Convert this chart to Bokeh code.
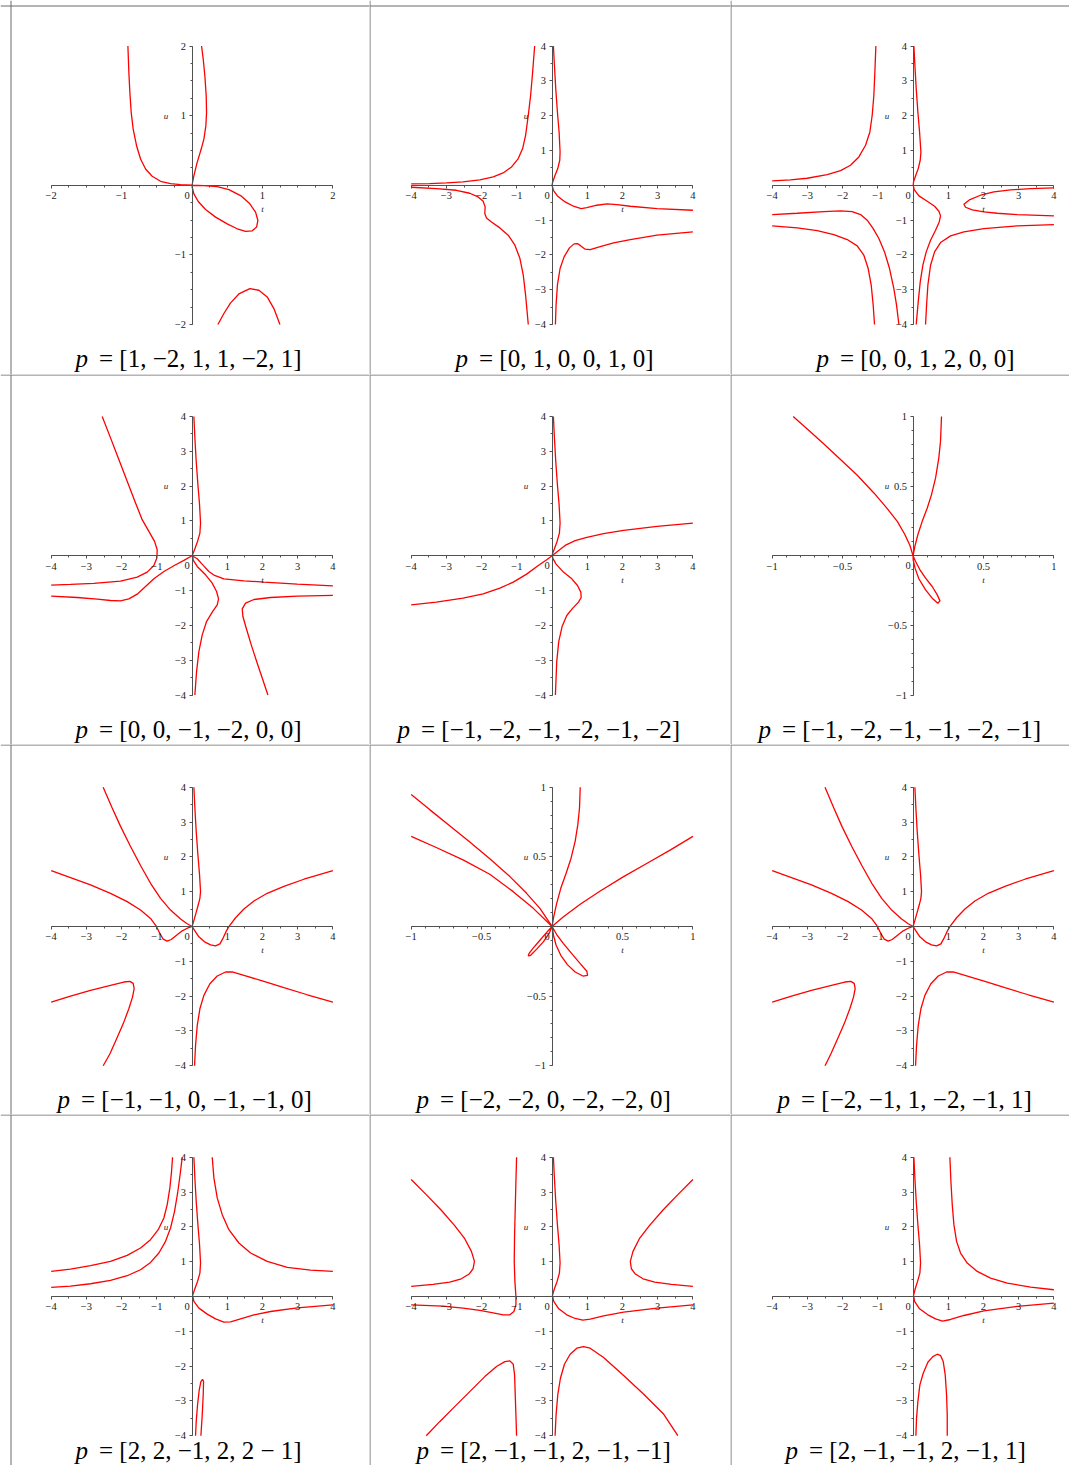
from bokeh.plotting import figure
from bokeh.layouts import gridplot
from bokeh.models import Span, Label, FixedTicker
from bokeh.embed import file_html
from bokeh.resources import INLINE

# ---------------- data ----------------
CAPTIONS = ["= [1, −2, 1, 1, −2, 1]", "= [0, 1, 0, 0, 1, 0]", "= [0, 0, 1, 2, 0, 0]",
            "= [0, 0, −1, −2, 0, 0]", "= [−1, −2, −1, −2, −1, −2]", "= [−1, −2, −1, −1, −2, −1]",
            "= [−1, −1, 0, −1, −1, 0]", "= [−2, −2, 0, −2, −2, 0]", "= [−2, −1, 1, −2, −1, 1]",
            "= [2, 2, −1, 2, 2 − 1]", "= [2, −1, −1, 2, −1, −1]", "= [2, −1, −1, 2, −1, 1]"]
RANGES = [2, 4, 4, 4, 4, 1, 4, 1, 4, 4, 4, 4]

A1 = [(-0.911, 2.0), (-0.897, 1.618), (-0.883, 1.332), (-0.864, 1.045), (-0.836, 0.807), (-0.788, 0.568),
      (-0.731, 0.377), (-0.660, 0.234), (-0.566, 0.129), (-0.447, 0.057), (-0.305, 0.024), (-0.163, 0.010),
      (0.0, 0.0), (0.168, -0.005), (0.357, -0.019), (0.523, -0.062), (0.689, -0.148), (0.821, -0.267),
      (0.902, -0.387), (0.935, -0.506), (0.916, -0.601), (0.854, -0.654), (0.760, -0.663), (0.641, -0.625),
      (0.499, -0.554), (0.334, -0.458), (0.192, -0.348), (0.088, -0.234), (0.026, -0.124), (0.002, -0.029),
      (0.0, 0.0), (0.026, 0.138), (0.073, 0.329), (0.130, 0.520), (0.168, 0.663), (0.196, 0.854),
      (0.206, 1.045), (0.201, 1.284), (0.182, 1.570), (0.159, 1.809), (0.135, 2.0)]
A2 = [(0.367, -2.0), (0.452, -1.842), (0.547, -1.690), (0.665, -1.561), (0.821, -1.485), (0.949, -1.508),
      (1.067, -1.604), (1.162, -1.771), (1.248, -2.0)]

B1 = [(-4.0, 0.038), (-3.48, 0.048), (-3.0, 0.067), (-2.53, 0.096), (-2.05, 0.153), (-1.67, 0.239),
      (-1.39, 0.354), (-1.15, 0.526), (-0.96, 0.766), (-0.836, 1.053), (-0.751, 1.435), (-0.675, 2.01),
      (-0.608, 2.584), (-0.551, 3.254), (-0.494, 4.0)]
B2 = [(0.038, 4.0), (0.067, 3.445), (0.105, 2.775), (0.152, 2.105), (0.2, 1.531), (0.228, 0.957),
      (0.219, 0.718), (0.162, 0.478), (0.086, 0.287), (0.019, 0.096), (0.0, 0.0), (0.038, -0.144),
      (0.152, -0.306), (0.371, -0.478), (0.608, -0.603), (0.827, -0.670), (0.988, -0.641), (1.273, -0.574),
      (1.558, -0.536), (1.843, -0.555), (2.223, -0.603), (2.983, -0.670), (4.0, -0.718)]
B3 = [(-4.0, -0.057), (-3.287, -0.096), (-2.717, -0.144), (-2.337, -0.230), (-2.1, -0.335), (-1.957, -0.459),
      (-1.9, -0.622), (-1.91, -0.813), (-1.862, -0.938), (-1.72, -1.053), (-1.482, -1.225), (-1.245, -1.435),
      (-1.055, -1.722), (-0.912, -2.105), (-0.817, -2.584), (-0.751, -3.158), (-0.675, -4.0)]
B4 = [(0.095, -4.0), (0.114, -3.445), (0.152, -2.871), (0.228, -2.392), (0.342, -2.057), (0.494, -1.799),
      (0.627, -1.684), (0.722, -1.675), (0.817, -1.742), (0.941, -1.837), (1.083, -1.847), (1.368, -1.761),
      (1.748, -1.656), (2.223, -1.560), (2.983, -1.435), (4.0, -1.340)]

C1 = [(-4.0, 0.124), (-3.48, 0.153), (-3.007, 0.201), (-2.438, 0.306), (-2.06, 0.421), (-1.776, 0.574),
      (-1.539, 0.813), (-1.349, 1.148), (-1.226, 1.531), (-1.160, 2.010), (-1.113, 2.584), (-1.084, 3.254),
      (-1.056, 4.0)]
C2 = [(0.024, 4.0), (0.052, 3.445), (0.09, 2.775), (0.137, 2.105), (0.185, 1.531), (0.223, 0.957),
      (0.204, 0.718), (0.147, 0.478), (0.071, 0.268), (0.014, 0.096), (0.005, 0.0), (0.033, -0.124),
      (0.166, -0.306), (0.402, -0.459), (0.611, -0.603), (0.734, -0.746), (0.781, -0.880), (0.743, -1.053),
      (0.639, -1.292), (0.497, -1.579), (0.374, -1.914), (0.279, -2.297), (0.204, -2.775), (0.147, -3.349),
      (0.09, -4.0)]
C3 = [(4.0, -0.077), (3.338, -0.096), (2.770, -0.134), (2.296, -0.191), (1.918, -0.287), (1.615, -0.411),
      (1.444, -0.545), (1.491, -0.632), (1.681, -0.708), (2.012, -0.766), (2.391, -0.804), (2.959, -0.842),
      (4.0, -0.880)]
C4 = [(-4.0, -0.842), (-3.291, -0.804), (-2.533, -0.756), (-2.060, -0.737), (-1.728, -0.756), (-1.491, -0.842),
      (-1.302, -1.005), (-1.132, -1.244), (-0.971, -1.531), (-0.810, -1.914), (-0.668, -2.392), (-0.545, -2.967),
      (-0.469, -3.445), (-0.402, -4.0)]
C5 = [(-4.0, -1.167), (-3.291, -1.225), (-2.722, -1.301), (-2.249, -1.416), (-1.870, -1.560), (-1.586, -1.742),
      (-1.397, -2.010), (-1.274, -2.392), (-1.188, -2.871), (-1.132, -3.445), (-1.094, -4.0)]
C6 = [(0.355, -4.0), (0.384, -3.445), (0.421, -2.871), (0.497, -2.297), (0.611, -1.914), (0.781, -1.646),
      (1.065, -1.455), (1.444, -1.340), (2.012, -1.244), (2.959, -1.167), (4.0, -1.129)]

D1 = [(-2.552, 4.0), (-2.315, 3.386), (-2.079, 2.763), (-1.842, 2.139), (-1.605, 1.516), (-1.416, 1.036),
      (-1.226, 0.700), (-1.065, 0.412), (-0.990, 0.173), (-0.999, -0.067), (-1.084, -0.278), (-1.274, -0.470),
      (-1.558, -0.614), (-2.031, -0.729), (-2.789, -0.796), (-3.452, -0.825), (-4.0, -0.844)]
D2 = [(0.052, 4.0), (0.080, 3.386), (0.118, 2.715), (0.166, 2.043), (0.213, 1.468), (0.241, 0.940),
      (0.223, 0.652), (0.156, 0.412), (0.080, 0.201), (0.014, 0.029), (0.033, -0.125), (0.147, -0.307),
      (0.384, -0.547), (0.573, -0.787), (0.696, -1.026), (0.753, -1.237), (0.715, -1.410), (0.573, -1.621),
      (0.412, -1.890), (0.289, -2.273), (0.194, -2.753), (0.128, -3.329), (0.080, -4.0)]
D3 = [(-4.0, -1.161), (-3.261, -1.199), (-2.693, -1.247), (-2.315, -1.285), (-2.031, -1.295), (-1.794, -1.237),
      (-1.558, -1.103), (-1.321, -0.882), (-1.084, -0.662), (-0.800, -0.451), (-0.516, -0.288), (-0.232, -0.134),
      (0.0, 0.0), (0.147, -0.086), (0.317, -0.278), (0.478, -0.451), (0.639, -0.566), (0.904, -0.662),
      (1.473, -0.719), (2.041, -0.758), (2.988, -0.815), (4.0, -0.863)]
D4 = [(4.0, -1.141), (2.988, -1.161), (2.230, -1.199), (1.757, -1.257), (1.520, -1.362), (1.425, -1.525),
      (1.444, -1.746), (1.539, -2.082), (1.681, -2.561), (1.851, -3.089), (2.012, -3.568), (2.154, -4.0)]

E1 = [(0.038, 4.0), (0.067, 3.386), (0.105, 2.715), (0.152, 2.043), (0.2, 1.468), (0.228, 0.940),
      (0.209, 0.652), (0.143, 0.412), (0.067, 0.201), (0.01, 0.048), (0.019, -0.067), (0.114, -0.240),
      (0.323, -0.470), (0.561, -0.662), (0.722, -0.854), (0.817, -1.046), (0.827, -1.199), (0.751, -1.333),
      (0.589, -1.506), (0.418, -1.717), (0.285, -2.034), (0.190, -2.465), (0.133, -3.041), (0.095, -4.0)]
E2 = [(-4.0, -1.410), (-3.287, -1.333), (-2.527, -1.218), (-1.957, -1.094), (-1.482, -0.930), (-1.102, -0.758),
      (-0.722, -0.528), (-0.390, -0.278), (-0.152, -0.115), (0.0, 0.0), (0.152, 0.125), (0.371, 0.297),
      (0.656, 0.432), (0.988, 0.528), (1.463, 0.633), (2.033, 0.729), (2.983, 0.844), (4.0, 0.940)]

F1 = [(-0.851, 1.0), (-0.751, 0.911), (-0.633, 0.803), (-0.515, 0.691), (-0.396, 0.578), (-0.278, 0.451),
      (-0.183, 0.338), (-0.112, 0.247), (-0.060, 0.156), (-0.022, 0.074), (0.0, 0.0), (0.018, -0.041),
      (0.049, -0.101), (0.089, -0.161), (0.136, -0.221), (0.172, -0.281), (0.191, -0.324), (0.176, -0.341),
      (0.136, -0.305), (0.089, -0.245), (0.041, -0.165), (0.014, -0.089), (0.001, -0.029), (0.0, 0.0),
      (0.013, 0.067), (0.034, 0.151), (0.065, 0.247), (0.101, 0.343), (0.131, 0.439), (0.160, 0.559),
      (0.183, 0.703), (0.195, 0.823), (0.202, 1.0)]

G1 = [(-2.524, 4.0), (-2.268, 3.404), (-2.031, 2.875), (-1.747, 2.298), (-1.463, 1.750), (-1.179, 1.240),
      (-0.895, 0.808), (-0.611, 0.471), (-0.327, 0.212), (-0.137, 0.077), (0.0, 0.0), (0.071, -0.115),
      (0.194, -0.298), (0.355, -0.442), (0.526, -0.529), (0.668, -0.558), (0.791, -0.500), (0.885, -0.327),
      (0.971, -0.135), (1.056, 0.010), (1.236, 0.250), (1.473, 0.500), (1.757, 0.731), (2.135, 0.952),
      (2.609, 1.154), (3.177, 1.356), (4.0, 1.606)]
G2 = [(-4.0, 1.606), (-3.452, 1.404), (-2.884, 1.192), (-2.316, 0.952), (-1.842, 0.712), (-1.463, 0.471),
      (-1.179, 0.231), (-1.018, 0.010), (-0.914, -0.202), (-0.819, -0.365), (-0.705, -0.423), (-0.592, -0.375),
      (-0.440, -0.250), (-0.279, -0.125), (-0.109, -0.038), (0.0, 0.0), (0.047, 0.154), (0.109, 0.375),
      (0.175, 0.615), (0.223, 0.808), (0.241, 1.0), (0.213, 1.481), (0.166, 2.058), (0.118, 2.731),
      (0.080, 3.404), (0.052, 4.0)]
G3 = [(-4.0, -2.173), (-3.452, -2.0), (-2.884, -1.837), (-2.316, -1.692), (-1.937, -1.596), (-1.767, -1.577),
      (-1.672, -1.635), (-1.644, -1.788), (-1.691, -2.029), (-1.795, -2.365), (-1.956, -2.798), (-2.145, -3.231),
      (-2.335, -3.663), (-2.524, -4.0)]
G4 = [(0.071, -4.0), (0.099, -3.423), (0.147, -2.846), (0.223, -2.365), (0.336, -1.981), (0.507, -1.644),
      (0.715, -1.423), (0.952, -1.308), (1.141, -1.308), (1.473, -1.404), (2.041, -1.577), (2.609, -1.760),
      (3.272, -1.962), (4.0, -2.173)]

H1 = [(-1.0, 0.947), (-0.869, 0.839), (-0.727, 0.724), (-0.584, 0.606), (-0.442, 0.486), (-0.299, 0.358),
      (-0.181, 0.238), (-0.086, 0.130), (0.0, 0.0)]
H2 = [(-1.0, 0.647), (-0.822, 0.567), (-0.632, 0.478), (-0.442, 0.375), (-0.276, 0.250), (-0.133, 0.130),
      (0.0, 0.0)]
H3 = [(0.0, 0.0), (0.081, 0.070), (0.200, 0.159), (0.342, 0.255), (0.508, 0.358), (0.675, 0.454),
      (0.841, 0.550), (1.0, 0.647)]
H4 = [(0.0, 0.0), (0.012, 0.070), (0.033, 0.166), (0.062, 0.274), (0.100, 0.382), (0.135, 0.490),
      (0.164, 0.611), (0.183, 0.731), (0.195, 0.851), (0.2, 1.0)]
H5 = [(0.0, 0.0), (-0.038, -0.043), (-0.086, -0.099), (-0.133, -0.154), (-0.164, -0.195), (-0.169, -0.212),
      (-0.152, -0.207), (-0.109, -0.163), (-0.062, -0.111), (-0.021, -0.050), (0.0, 0.0)]
H6 = [(0.0, 0.0), (0.010, -0.063), (0.029, -0.135), (0.062, -0.207), (0.109, -0.274), (0.164, -0.327),
      (0.219, -0.356), (0.252, -0.351), (0.247, -0.322), (0.2, -0.267), (0.140, -0.195), (0.081, -0.123),
      (0.033, -0.058), (0.0, 0.0)]

I1 = [(-2.50, 4.0), (-2.25, 3.404), (-2.02, 2.875), (-1.74, 2.298), (-1.455, 1.750), (-1.172, 1.240),
      (-0.89, 0.808), (-0.607, 0.471), (-0.325, 0.212), (-0.136, 0.077), (0.0, 0.0), (0.071, -0.115),
      (0.194, -0.298), (0.355, -0.442), (0.526, -0.529), (0.668, -0.558), (0.791, -0.500), (0.885, -0.327),
      (0.971, -0.135), (1.056, 0.010), (1.236, 0.250), (1.473, 0.500), (1.757, 0.731), (2.135, 0.952),
      (2.609, 1.154), (3.177, 1.356), (4.0, 1.606)]
I2 = [(-4.0, 1.606), (-3.452, 1.404), (-2.884, 1.192), (-2.316, 0.952), (-1.842, 0.712), (-1.463, 0.471),
      (-1.179, 0.231), (-1.018, 0.010), (-0.914, -0.202), (-0.819, -0.365), (-0.705, -0.423), (-0.592, -0.375),
      (-0.440, -0.250), (-0.279, -0.125), (-0.109, -0.038), (0.0, 0.0), (0.047, 0.154), (0.109, 0.375),
      (0.175, 0.615), (0.223, 0.808), (0.241, 1.0), (0.213, 1.481), (0.166, 2.058), (0.118, 2.731),
      (0.080, 3.404), (0.052, 4.0)]
I3 = [(-4.0, -2.173), (-3.452, -2.0), (-2.884, -1.837), (-2.316, -1.692), (-1.937, -1.596), (-1.767, -1.577),
      (-1.672, -1.635), (-1.644, -1.788), (-1.691, -2.029), (-1.795, -2.365), (-1.956, -2.798), (-2.145, -3.231),
      (-2.335, -3.663), (-2.50, -4.0)]
I4 = [(0.071, -4.0), (0.099, -3.423), (0.147, -2.846), (0.223, -2.365), (0.336, -1.981), (0.507, -1.644),
      (0.715, -1.423), (0.952, -1.308), (1.141, -1.308), (1.473, -1.404), (2.041, -1.577), (2.609, -1.760),
      (3.272, -1.962), (4.0, -2.173)]

J1 = [(-4.0, 0.719), (-3.452, 0.787), (-2.884, 0.883), (-2.316, 1.007), (-1.842, 1.180), (-1.463, 1.391),
      (-1.179, 1.631), (-0.961, 1.918), (-0.800, 2.254), (-0.705, 2.638), (-0.630, 3.118), (-0.582, 3.597),
      (-0.554, 4.0)]
J2 = [(-4.0, 0.259), (-3.452, 0.297), (-2.884, 0.365), (-2.316, 0.460), (-1.842, 0.595), (-1.463, 0.767),
      (-1.179, 0.978), (-0.942, 1.247), (-0.753, 1.583), (-0.611, 1.966), (-0.497, 2.446), (-0.402, 3.022),
      (-0.327, 3.597), (-0.279, 4.0)]
J3 = [(0.573, 4.0), (0.620, 3.405), (0.715, 2.830), (0.857, 2.350), (1.046, 1.918), (1.330, 1.535),
      (1.662, 1.247), (2.135, 1.007), (2.704, 0.835), (3.367, 0.758), (4.0, 0.719)]
J4 = [(0.052, 4.0), (0.080, 3.405), (0.118, 2.734), (0.166, 2.062), (0.213, 1.487), (0.241, 0.959),
      (0.223, 0.671), (0.156, 0.432), (0.080, 0.221), (0.014, 0.029), (0.052, -0.144), (0.194, -0.336),
      (0.431, -0.508), (0.668, -0.643), (0.904, -0.739), (1.094, -0.729), (1.378, -0.643), (1.757, -0.528),
      (2.230, -0.432), (2.988, -0.326), (4.0, -0.240)]
J5 = [(0.099, -4.0), (0.118, -3.597), (0.156, -3.118), (0.204, -2.686), (0.251, -2.446), (0.298, -2.379),
      (0.327, -2.446), (0.317, -2.830), (0.289, -3.405), (0.251, -4.0)]

K1 = [(-4.0, 3.357), (-3.573, 2.926), (-3.145, 2.475), (-2.765, 2.034), (-2.480, 1.659), (-2.290, 1.295),
      (-2.204, 1.007), (-2.242, 0.796), (-2.356, 0.643), (-2.575, 0.508), (-2.907, 0.412), (-3.382, 0.345),
      (-4.0, 0.288)]
K2 = [(-1.007, 4.0), (-1.026, 3.309), (-1.045, 2.542), (-1.064, 1.775), (-1.074, 1.007), (-1.055, 0.432),
      (-1.026, 0.0), (-1.026, -0.240), (-1.083, -0.432), (-1.197, -0.528), (-1.387, -0.528), (-1.672, -0.470),
      (-2.052, -0.403), (-2.527, -0.336), (-3.097, -0.278), (-4.0, -0.240)]
K3 = [(-3.573, -4.0), (-3.192, -3.597), (-2.765, -3.165), (-2.337, -2.734), (-1.910, -2.302), (-1.577, -2.014),
      (-1.340, -1.871), (-1.197, -1.851), (-1.102, -1.947), (-1.064, -2.254), (-1.045, -2.830), (-1.026, -3.405),
      (-1.007, -4.0)]
K4 = [(0.038, 4.0), (0.067, 3.405), (0.105, 2.734), (0.152, 2.062), (0.2, 1.487), (0.228, 0.959),
      (0.209, 0.671), (0.143, 0.432), (0.067, 0.221), (0.01, 0.029), (0.048, -0.144), (0.190, -0.355),
      (0.418, -0.528), (0.656, -0.633), (0.874, -0.681), (1.083, -0.652), (1.463, -0.556), (2.033, -0.451),
      (2.983, -0.336), (4.0, -0.240)]
K5 = [(4.0, 3.357), (3.572, 2.926), (3.145, 2.475), (2.765, 2.034), (2.480, 1.659), (2.299, 1.295),
      (2.223, 1.007), (2.252, 0.796), (2.366, 0.643), (2.584, 0.508), (2.917, 0.412), (3.392, 0.345),
      (4.0, 0.288)]
K6 = [(0.086, -4.0), (0.114, -3.405), (0.162, -2.830), (0.238, -2.350), (0.352, -1.947), (0.513, -1.659),
      (0.703, -1.487), (0.893, -1.439), (1.083, -1.487), (1.463, -1.755), (2.033, -2.273), (2.603, -2.810),
      (3.173, -3.386), (3.572, -4.0)]

L1 = [(0.024, 4.0), (0.052, 3.405), (0.090, 2.734), (0.137, 2.062), (0.185, 1.487), (0.213, 0.959),
      (0.194, 0.671), (0.128, 0.432), (0.062, 0.221), (0.014, 0.029), (0.043, -0.144), (0.185, -0.355),
      (0.421, -0.528), (0.639, -0.643), (0.838, -0.710), (1.065, -0.662), (1.444, -0.547), (2.012, -0.412),
      (2.959, -0.288), (4.0, -0.192)]
L2 = [(1.046, 4.0), (1.075, 3.309), (1.113, 2.638), (1.160, 2.062), (1.236, 1.583), (1.349, 1.247),
      (1.539, 0.959), (1.823, 0.719), (2.202, 0.528), (2.675, 0.384), (3.338, 0.269), (4.0, 0.192)]
L3 = [(0.080, -4.0), (0.099, -3.501), (0.137, -3.022), (0.194, -2.542), (0.289, -2.206), (0.421, -1.890),
      (0.563, -1.727), (0.687, -1.659), (0.781, -1.698), (0.857, -1.871), (0.914, -2.254), (0.952, -2.830),
      (0.971, -3.405), (0.971, -4.0)]

CURVES = [[A1, A2], [B1, B2, B3, B4], [C1, C2, C3, C4, C5, C6],
          [D1, D2, D3, D4], [E1, E2], [F1],
          [G1, G2, G3, G4], [H1, H2, H3, H4, H5, H6], [I1, I2, I3, I4],
          [J1, J2, J3, J4, J5], [K1, K2, K3, K4, K5, K6], [L1, L2, L3]]

# ---------------- layout (picture pixels) ----------------
COL_LEFT = [0, 369, 730]
COL_RIGHT = [369, 730, 1069]
ROW_TOP = [0, 374, 744, 1114]
ROW_BOTTOM = [374, 744, 1114, 1465]
AX_X0 = [50.7, 410.7, 771.7]          # x of t = -R
AX_W = 281.7
AX_Y0 = [45.5, 416.0, 786.7, 1156.7]  # y of u = +R
AX_H = 278.5
BORDER_X = [10, 369, 730]
BORDER_Y = [5, 374, 744, 1114]
CAPTION_LEFT = [75, 455, 816, 75, 397, 758, 57, 416, 777, 75, 416, 785]
CAPTION_DROP = [34, 34, 34, 15]
CAPTION_GAP = 23.5

SERIF = "Liberation Serif"
TICK_COLOR = "#222222"
AXIS_COLOR = "#505050"
BORDER_COLOR = "#6a6a6a"
CURVE_COLOR = "#ff0000"


def tick_text(v):
    s = ("%g" % abs(v))
    return ("−" if v < 0 else "") + s


rows = []
for idx in range(12):
    r, c = divmod(idx, 3)
    R = RANGES[idx]
    W = COL_RIGHT[c] - COL_LEFT[c]
    H = ROW_BOTTOM[r] - ROW_TOP[r]
    sx = AX_W / (2 * R)
    sy = AX_H / (2 * R)
    x0 = -R - (AX_X0[c] - COL_LEFT[c]) / sx
    x1 = x0 + W / sx
    y1 = R + (AX_Y0[r] - ROW_TOP[r]) / sy
    y0 = y1 - H / sy

    p = figure(width=W, height=H, x_range=(x0, x1), y_range=(y0, y1),
               output_backend="svg", toolbar_location=None, min_border=0,
               outline_line_color=None, background_fill_color="white",
               border_fill_color="white")
    p.grid.visible = False

    if R == 1:
        majors = [-1, -0.5, 0.5, 1]
        step = 0.1
    elif R == 2:
        majors = [-2, -1, 1, 2]
        step = 0.25
    else:
        majors = [-4, -3, -2, -1, 1, 2, 3, 4]
        step = 0.5
    n = int(round(2 * R / step))
    minors = [-R + k * step for k in range(n + 1)]
    overrides = {m: tick_text(m) for m in majors}

    for ax in (p.xaxis[0], p.yaxis[0]):
        ax.fixed_location = 0
        ax.bounds = (-R, R)
        ax.ticker = FixedTicker(ticks=majors, minor_ticks=minors)
        ax.major_label_overrides = overrides
        ax.axis_line_color = AXIS_COLOR
        ax.axis_line_width = 1
        ax.major_tick_line_color = AXIS_COLOR
        ax.minor_tick_line_color = AXIS_COLOR
        ax.major_tick_out = 3
        ax.major_tick_in = 0
        ax.minor_tick_out = 2
        ax.minor_tick_in = 0
        ax.major_label_text_font = SERIF
        ax.major_label_text_font_size = "10.5px"
        ax.major_label_text_color = TICK_COLOR
    p.xaxis[0].major_label_standoff = 4
    p.yaxis[0].major_label_standoff = 3

    # axis names and origin label
    p.add_layout(Label(x=0, y=0, x_offset=-5, y_offset=-10, text="0", text_align="center",
                       text_baseline="middle", text_font=SERIF, text_font_size="10.5px",
                       text_color=TICK_COLOR))
    p.add_layout(Label(x=R / 2, y=0, y_offset=-24, text="t", text_align="center",
                       text_baseline="middle", text_font=SERIF, text_font_style="italic",
                       text_font_size="9px", text_color=TICK_COLOR))
    p.add_layout(Label(x=0, y=R / 2, x_offset=-26, text="u", text_align="center",
                       text_baseline="middle", text_font=SERIF, text_font_style="italic",
                       text_font_size="9px", text_color=TICK_COLOR))

    # curves
    for curve in CURVES[idx]:
        ts = [pt[0] for pt in curve]
        us = [pt[1] for pt in curve]
        p.line(ts, us, line_color=CURVE_COLOR, line_width=1.3)

    # caption: italic p, then the rest
    cx = x0 + (CAPTION_LEFT[idx] - COL_LEFT[c]) / sx
    p.add_layout(Label(x=cx, y=-R, y_offset=-CAPTION_DROP[r], text="p",
                       text_align="left", text_baseline="middle", text_font=SERIF,
                       text_font_style="italic", text_font_size="25px", text_color="black"))
    p.add_layout(Label(x=cx + CAPTION_GAP / sx, y=-R, y_offset=-CAPTION_DROP[r], text=CAPTIONS[idx],
                       text_align="left", text_baseline="middle", text_font=SERIF,
                       text_font_size="25px", text_color="black"))

    # table borders (left and top of each cell)
    bx = BORDER_X[c] - COL_LEFT[c] + 0.5
    by = BORDER_Y[r] - ROW_TOP[r] + 0.5
    p.add_layout(Span(location=x0 + bx / sx, dimension="height",
                      line_color=BORDER_COLOR, line_width=1))
    p.add_layout(Span(location=y1 - by / sy, dimension="width",
                      line_color=BORDER_COLOR, line_width=1))

    if c == 0:
        rows.append([])
    rows[-1].append(p)

grid = gridplot(rows, toolbar_location=None)

with open("out.html", "w") as f:
    f.write(file_html(grid, INLINE))
